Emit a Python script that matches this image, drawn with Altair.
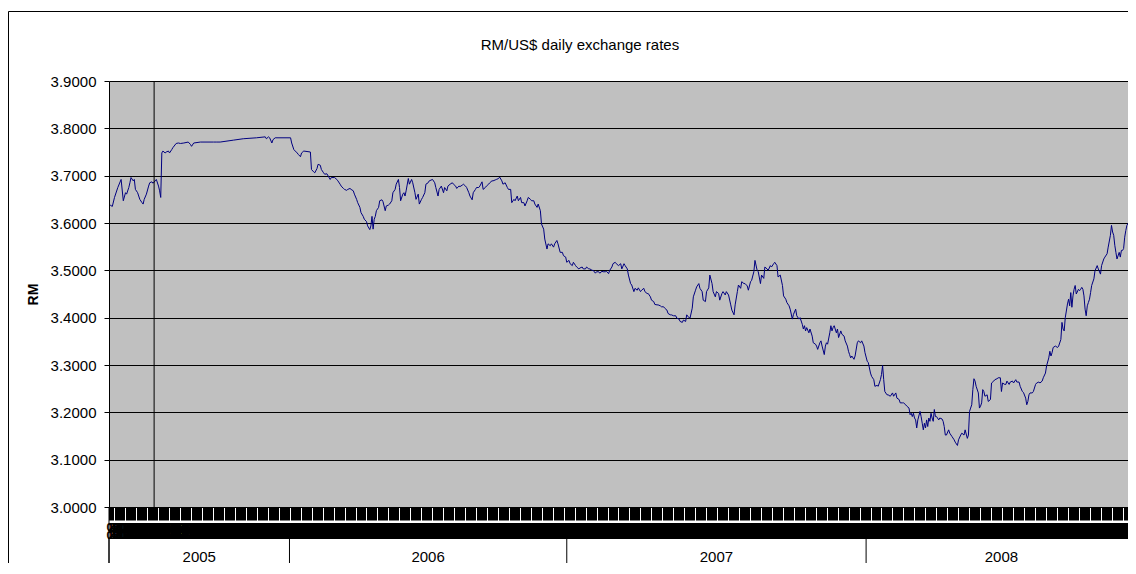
import altair as alt
import pandas as pd

# ---------------- data ----------------
title_text = "RM/US$ daily exchange rates"
y_title = "RM"
years = ["2005", "2006", "2007", "2008"]
year_start = [0, 164, 416, 688]      # first observation of each year
year_end = [164, 416, 688, 934]      # observation after the last one
marker_obs = [41]                    # vertical marker line
y_ticks = [3.0, 3.1, 3.2, 3.3, 3.4, 3.5, 3.6, 3.7, 3.8, 3.9]
n_obs = 934
visible_obs = 926

obs = [1, 3, 5, 8, 11, 13, 15, 16, 18, 19, 20, 22, 23, 24, 26, 27, 28, 30, 31, 32, 34, 36, 37, 39, 40, 42, 43, 45, 46, 47,
       48, 49, 51, 52, 54, 55, 57, 58, 61, 63, 65, 68, 72, 74, 75, 77, 83, 95, 98, 101, 113, 122, 134, 142, 143, 145, 146, 148, 149, 151,
       165, 166, 168, 171, 172, 174, 175, 177, 183, 184, 186, 187, 189, 190, 192, 193, 195, 196, 198, 201, 202, 205, 207, 208, 210, 211, 213, 214, 216, 217,
       219, 220, 222, 223, 225, 226, 228, 229, 231, 232, 234, 235, 237, 238, 239, 240, 241, 242, 243, 245, 246, 248, 249, 251, 252, 254, 255, 257, 258, 260,
       261, 263, 264, 265, 267, 268, 269, 270, 272, 273, 275, 276, 278, 279, 281, 282, 284, 285, 287, 288, 290, 291, 294, 296, 297, 299, 300,
       302, 304, 305, 307, 308, 310, 312, 313, 315, 316, 318, 319, 321, 322, 324, 325, 327, 328, 330, 331, 333, 334, 336, 337, 339, 340, 342, 343, 345, 346,
       348, 349, 351, 352, 354, 355, 357, 358, 360, 362, 363, 365, 366, 368, 369, 371, 372, 374, 375, 377, 378, 380, 381, 383, 384, 386, 387, 389, 390, 392,
       393, 395, 396, 398, 399, 401, 402, 404, 405, 407, 408, 410, 412, 413, 415, 416, 418, 419, 421, 422, 424, 425, 427, 428, 430, 431, 433, 434, 436, 437,
       439, 440, 442, 443, 445, 446, 448, 449, 451, 452, 454, 455, 457, 458, 460, 461, 463, 465, 466, 468, 469, 471, 472, 474, 475, 477, 478, 480, 481, 483,
       484, 486, 487, 489, 490, 492, 493, 495, 496, 498, 499, 501, 502, 504, 505, 507, 508, 510, 511, 513, 515, 516, 518, 519, 521, 522, 524, 525, 527, 528,
       530, 531, 533, 534, 536, 537, 539, 540, 542, 543, 545, 546, 548, 549, 551, 552, 554, 555, 557, 558, 560, 561, 563, 565, 566, 568, 569, 571, 572, 574,
       575, 577, 578, 580, 581, 583, 584, 586, 587, 589, 590, 592, 593, 595, 596, 598, 599, 601, 602, 604, 605, 607, 608,
       610, 612, 613, 615, 616, 618, 619, 621, 622, 624, 625, 627, 628, 630, 631, 632, 633, 634, 636, 637, 639, 640, 642, 643, 644, 646, 647, 648, 650, 651,
       652, 653, 655, 656, 657, 658, 659, 661, 662, 663, 665, 666, 668, 669, 671, 672, 673, 674, 675, 677, 678, 680, 681, 683, 684, 686, 687, 689, 690, 692,
       693, 695, 696, 698, 699, 701, 702, 703, 704, 705, 707, 708, 710, 712, 713, 715, 716, 718, 719, 721, 722, 724, 725, 727, 728, 729, 730, 731, 732, 733,
       734, 735, 737, 738, 739, 740, 741, 742, 743, 744, 745, 746, 747, 748, 749, 750, 751, 752, 754, 755, 757, 758, 759, 760, 761, 763, 764, 766, 768, 769,
       771, 772, 774, 775, 777, 778, 780, 781, 782, 783, 784, 785, 786, 787, 788, 790, 791, 792, 793, 794, 795, 796, 798, 799, 801, 802, 804, 805, 807, 808,
       810, 811, 812, 814, 815, 816, 818, 819, 821, 822, 824, 825, 827, 828, 830, 831, 833, 834, 835, 836, 837, 839, 840, 842, 843, 845, 846, 848, 849, 851,
       852, 854, 855, 856, 857, 858, 860, 862, 863, 865, 866, 867, 868, 869, 871, 872, 873, 874, 875, 876, 877, 878, 879, 881, 882, 883, 884, 885, 886, 887,
       888, 889, 890, 891, 892, 893, 895, 896, 898, 899, 901, 902, 904, 905, 907, 908, 910, 911, 912, 913, 914, 915, 916, 918, 919, 920, 921, 922, 923, 924,
       925, 926, 927, 928, 930, 931, 933, 934]

rate = [3.638, 3.635, 3.654, 3.675, 3.692, 3.647, 3.664, 3.661, 3.675, 3.685, 3.696, 3.689, 3.692, 3.671, 3.664, 3.657, 3.650, 3.643, 3.640, 3.650, 3.661, 3.678, 3.685, 3.687, 3.684, 3.689, 3.692, 3.678, 3.668, 3.654,
        3.748, 3.752, 3.748, 3.750, 3.752, 3.748, 3.755, 3.759, 3.768, 3.769, 3.768, 3.769, 3.771, 3.766, 3.762, 3.769, 3.771, 3.771, 3.771, 3.771, 3.775, 3.778, 3.780, 3.782, 3.778, 3.782, 3.780, 3.769, 3.776, 3.780,
        3.780, 3.769, 3.755, 3.748, 3.745, 3.740, 3.748, 3.752, 3.750, 3.713, 3.708, 3.706, 3.715, 3.724, 3.722, 3.713, 3.706, 3.703, 3.704, 3.692, 3.696, 3.696, 3.692, 3.689, 3.682, 3.678, 3.673, 3.671, 3.669, 3.671,
        3.673, 3.671, 3.668, 3.661, 3.650, 3.643, 3.633, 3.622, 3.614, 3.608, 3.603, 3.594, 3.586, 3.594, 3.614, 3.587, 3.608, 3.614, 3.626, 3.633, 3.647, 3.649, 3.645, 3.626, 3.636, 3.638, 3.640, 3.647, 3.664, 3.671,
        3.682, 3.692, 3.675, 3.647, 3.661, 3.664, 3.657, 3.668, 3.694, 3.682, 3.692, 3.685, 3.664, 3.650, 3.661, 3.640, 3.650, 3.654, 3.664, 3.682, 3.685, 3.689, 3.692, 3.685, 3.675, 3.657, 3.671,
        3.678, 3.664, 3.675, 3.668, 3.678, 3.682, 3.685, 3.682, 3.678, 3.673, 3.678, 3.677, 3.680, 3.682, 3.678, 3.675, 3.664, 3.657, 3.649, 3.664, 3.671, 3.675, 3.675, 3.678, 3.687, 3.671, 3.675, 3.678, 3.682, 3.685,
        3.689, 3.689, 3.691, 3.692, 3.694, 3.697, 3.689, 3.682, 3.685, 3.675, 3.671, 3.671, 3.643, 3.650, 3.647, 3.657, 3.647, 3.654, 3.643, 3.643, 3.636, 3.647, 3.654, 3.650, 3.647, 3.647, 3.640, 3.633, 3.640, 3.626,
        3.598, 3.587, 3.566, 3.545, 3.556, 3.552, 3.556, 3.549, 3.556, 3.563, 3.556, 3.538, 3.538, 3.531, 3.528, 3.517, 3.521, 3.514, 3.510, 3.517, 3.510, 3.507, 3.503, 3.505, 3.507, 3.503, 3.503, 3.507, 3.503, 3.503,
        3.500, 3.500, 3.494, 3.497, 3.497, 3.494, 3.498, 3.497, 3.497, 3.498, 3.493, 3.500, 3.507, 3.514, 3.517, 3.514, 3.510, 3.514, 3.503, 3.514, 3.510, 3.503, 3.490, 3.472, 3.469, 3.455, 3.462, 3.458, 3.463, 3.455,
        3.458, 3.462, 3.455, 3.451, 3.451, 3.444, 3.437, 3.434, 3.428, 3.427, 3.427, 3.425, 3.423, 3.423, 3.420, 3.416, 3.409, 3.406, 3.406, 3.404, 3.404, 3.399, 3.397, 3.392, 3.390, 3.395, 3.392, 3.406, 3.400, 3.399,
        3.420, 3.444, 3.458, 3.465, 3.472, 3.462, 3.455, 3.437, 3.434, 3.455, 3.463, 3.490, 3.472, 3.455, 3.444, 3.455, 3.451, 3.437, 3.451, 3.455, 3.448, 3.455, 3.448, 3.427, 3.416, 3.406, 3.427, 3.455, 3.469, 3.462,
        3.476, 3.472, 3.472, 3.467, 3.458, 3.476, 3.479, 3.497, 3.521, 3.500, 3.497, 3.472, 3.490, 3.483, 3.507, 3.503, 3.500, 3.510, 3.507, 3.514, 3.517, 3.510, 3.486,
        3.490, 3.468, 3.446, 3.439, 3.432, 3.425, 3.418, 3.397, 3.407, 3.418, 3.404, 3.397, 3.400, 3.386, 3.376, 3.383, 3.372, 3.379, 3.368, 3.376, 3.361, 3.347, 3.344, 3.340, 3.333, 3.347, 3.351, 3.340, 3.322, 3.340,
        3.347, 3.344, 3.368, 3.383, 3.372, 3.379, 3.383, 3.368, 3.376, 3.358, 3.372, 3.365, 3.361, 3.351, 3.340, 3.329, 3.322, 3.315, 3.319, 3.312, 3.319, 3.347, 3.351, 3.347, 3.351, 3.340, 3.326, 3.308, 3.305, 3.283,
        3.276, 3.269, 3.255, 3.257, 3.255, 3.269, 3.280, 3.299, 3.269, 3.244, 3.237, 3.237, 3.234, 3.241, 3.234, 3.241, 3.230, 3.227, 3.220, 3.220, 3.220, 3.216, 3.213, 3.209, 3.195, 3.198, 3.191, 3.198, 3.188, 3.184,
        3.167, 3.184, 3.202, 3.191, 3.177, 3.163, 3.177, 3.167, 3.184, 3.170, 3.188, 3.181, 3.198, 3.188, 3.181, 3.206, 3.191, 3.191, 3.184, 3.188, 3.186, 3.181, 3.170, 3.152, 3.152, 3.163, 3.156, 3.149, 3.142, 3.137,
        3.130, 3.142, 3.152, 3.156, 3.152, 3.163, 3.145, 3.152, 3.202, 3.209, 3.216, 3.248, 3.271, 3.266, 3.255, 3.241, 3.209, 3.213, 3.220, 3.248, 3.244, 3.234, 3.237, 3.223, 3.227, 3.262, 3.266, 3.269, 3.271, 3.273,
        3.273, 3.244, 3.262, 3.259, 3.259, 3.266, 3.259, 3.264, 3.266, 3.262, 3.269, 3.264, 3.264, 3.255, 3.244, 3.242, 3.230, 3.216, 3.223, 3.237, 3.241, 3.241, 3.244, 3.259, 3.262, 3.264, 3.262, 3.266, 3.273, 3.283,
        3.298, 3.315, 3.329, 3.319, 3.326, 3.337, 3.340, 3.337, 3.340, 3.354, 3.390, 3.376, 3.372, 3.400, 3.429, 3.439, 3.425, 3.453, 3.422, 3.446, 3.460, 3.468, 3.450, 3.460, 3.457, 3.460, 3.464, 3.460, 3.446, 3.418,
        3.404, 3.425, 3.432, 3.439, 3.453, 3.468, 3.482, 3.499, 3.510, 3.503, 3.492, 3.510, 3.524, 3.528, 3.535, 3.549, 3.574, 3.595, 3.581, 3.574, 3.553, 3.538, 3.524, 3.538, 3.528, 3.542, 3.542, 3.546, 3.570, 3.584,
        3.595, 3.599, 3.596, 3.606, 3.616, 3.629, 3.627, 3.627]

# ---------------- chart ----------------
W, H = 1019, 426
FONT = "Liberation Sans"

df = pd.DataFrame({"obs": obs, "rate": rate})
years_df = pd.DataFrame({"year": years, "start": year_start, "end": year_end})
marker_df = pd.DataFrame({"obs": marker_obs})
one = pd.DataFrame({"t": [title_text]})

x_scale = alt.Scale(domain=[0, visible_obs], nice=False, zero=False)
y_scale = alt.Scale(domain=[3.0, 3.9], nice=False, zero=False)

x_axis = alt.Axis(
    values=list(range(0, visible_obs + 1)), tickCount=5000,
    title=None, grid=False, domain=False,
    tickSize=13, tickColor="black", tickWidth=1,
    labelExpr="['' + datum.value, '' + datum.value]",
    labelFontSize=11, labelFontWeight="bold", labelLineHeight=8,
    labelOverlap=False, labelFlush=False,
    labelBound=False, labelPadding=1, labelBaseline="top", labelColor="black",
    labelAngle=0,
)
y_axis = alt.Axis(
    values=y_ticks, format=".4f",
    grid=True, gridColor="black", gridWidth=1, gridOpacity=1,
    domain=True, domainColor="black", domainWidth=1,
    tickSize=5, tickColor="black", tickWidth=1,
    labelFontSize=15, labelPadding=8, labelColor="black",
    title=y_title, titleX=-76, titleY=H / 2, titleAngle=270,
    titleAlign="center", titleBaseline="middle",
    titleFontSize=14, titleFontWeight="bold", titleColor="black",
)

line = alt.Chart(df).mark_line(color="#000080", strokeWidth=1, clip=True).encode(
    x=alt.X("obs:Q", scale=x_scale, axis=x_axis),
    y=alt.Y("rate:Q", scale=y_scale, axis=y_axis),
)

marker = alt.Chart(marker_df).mark_rule(color="black", strokeWidth=1).encode(
    x=alt.X("obs:Q", scale=x_scale),
    y=alt.value(0), y2=alt.value(H + 13),
)

year_rules = alt.Chart(years_df).transform_calculate(obs="datum.start").mark_rule(
    color="black", strokeWidth=1
).encode(
    x=alt.X("obs:Q", scale=x_scale),
    y=alt.value(H + 31), y2=alt.value(H + 62),
)

left_rule = alt.Chart(one).mark_rule(color="black", strokeWidth=1).encode(
    x=alt.value(0), y=alt.value(H), y2=alt.value(H + 62)
)

year_text = alt.Chart(years_df).transform_calculate(obs="(datum.start + datum.end) / 2").mark_text(
    font=FONT, fontSize=15, color="black", align="center", baseline="alphabetic"
).encode(
    x=alt.X("obs:Q", scale=x_scale),
    y=alt.value(H + 55),
    text="year:N",
)

title = alt.Chart(one).mark_text(
    font=FONT, fontSize=15, color="black", align="center", baseline="alphabetic"
).encode(x=alt.value(471), y=alt.value(-31), text="t:N")

frame = alt.Chart(one).mark_rect(fillOpacity=0, stroke="black", strokeWidth=1).encode(
    x=alt.value(-100.5), x2=alt.value(W + 60), y=alt.value(-69.5), y2=alt.value(H + 200)
)

chart = alt.layer(line, marker, year_rules, left_rule, year_text, title, frame).properties(
    width=W, height=H,
    autosize=alt.AutoSizeParams(type="none"),
    padding={"left": 101, "top": 73, "right": 0, "bottom": 56},
    background="white",
).configure_view(
    fill="#C0C0C0", stroke="transparent"
).configure_axis(
    labelFont=FONT, titleFont=FONT
)

chart.save("out.html", embed_options={"renderer": "svg", "actions": False})
